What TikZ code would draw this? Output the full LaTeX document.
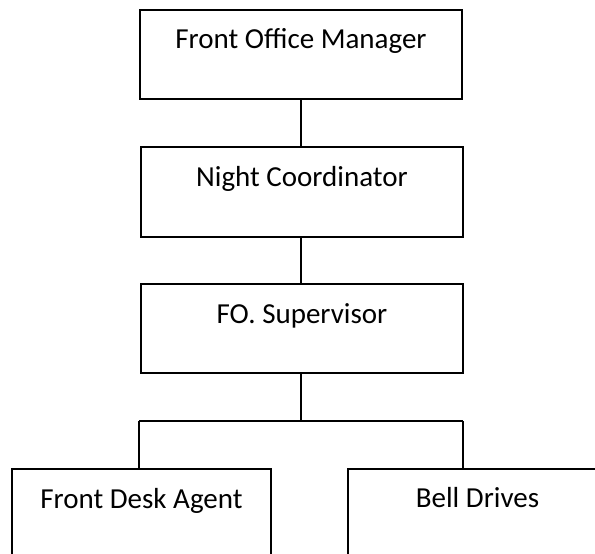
\documentclass[tikz,border=0pt]{standalone}
\usepackage{fontspec}
\setmainfont{Carlito}
\begin{document}
\begin{tikzpicture}[x=1pt,y=-1pt,
  line width=1.8pt,
  every node/.style={font=\fontsize{29}{35}\selectfont},
  role/.style={draw, rectangle, inner sep=0pt, anchor=north, align=center},
  topbox/.style={role, minimum width=322pt},
  lowbox/.style={role, minimum width=259pt},
  link/.style={draw, line cap=rect}]
  \useasboundingbox (0,0) rectangle (595,554);
  \clip (0,0) rectangle (595,554);

  % management chain
  \node[topbox, text height=39pt, text depth=50pt] (fom) at (301,9) {Front Office Manager};
  \node[topbox, text height=40pt, text depth=50pt] (night) at (302,146) {Night Coordinator};
  \node[topbox, text height=40pt, text depth=49pt] (sup) at (302,283) {FO. Supervisor};

  % front-line staff (boxes run past the lower edge)
  \node[lowbox, text height=40pt, text depth=52pt] (desk) at (141.5,468) {Front Desk Agent};
  \node[lowbox, text height=39pt, text depth=53pt] (bell) at (477.5,468) {Bell Drives};

  % branching bus below the supervisor
  \coordinate (busL) at (139,421);
  \coordinate (busR) at (463,421);
  \coordinate (busM) at (301,421);

  \draw (fom.south -| busM) -- (night.north -| busM);
  \draw (night.south -| busM) -- (sup.north -| busM);
  \draw (sup.south -| busM) -- (busM);
  \draw (busL) -- (busR);
  \draw (busL) -- (busL |- desk.north);
  \draw (busR) -- (busR |- bell.north);
\end{tikzpicture}
\end{document}
